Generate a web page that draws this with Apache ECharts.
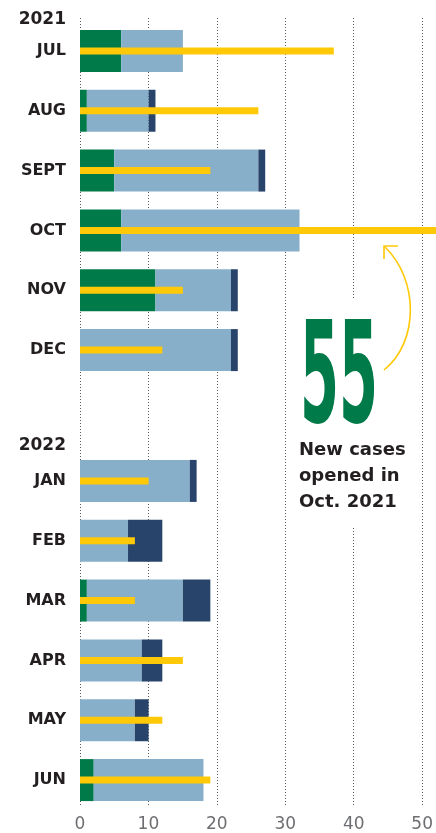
<!DOCTYPE html>
<html>
<head>
<meta charset="utf-8">
<script src="https://cdn.jsdelivr.net/npm/echarts@6/dist/echarts.min.js"></script>
<style>
  html, body { margin: 0; padding: 0; background: #fff; }
  #chart { width: 436px; height: 833px; }
</style>
</head>
<body>
<div id="chart"></div>
<script>
// data
var months2021 = ['JUL', 'AUG', 'SEPT', 'OCT', 'NOV', 'DEC'];
var green2021 = [6, 1, 5, 6, 11, 0];
var lightBlue2021 = [9, 9, 21, 26, 11, 22];
var navy2021 = [0, 1, 1, 0, 1, 1];
var newCases2021 = [37, 26, 19, 55, 15, 12];

var months2022 = ['JAN', 'FEB', 'MAR', 'APR', 'MAY', 'JUN'];
var green2022 = [0, 0, 1, 0, 0, 2];
var lightBlue2022 = [16, 7, 14, 9, 8, 16];
var navy2022 = [1, 5, 4, 3, 2, 0];
var newCases2022 = [10, 8, 8, 15, 12, 19];

var xTicks = [0, 10, 20, 30, 40, 50];

var GREEN = '#017a49', LIGHT = '#87afc9', NAVY = '#29446a', YELLOW = '#ffc907';
var INK = '#231f20';
var FONT = 'DejaVu Sans';

var myChart = echarts.init(document.getElementById('chart'));

function catAxis(gridIndex, data, show) {
    return {
        type: 'category',
        gridIndex: gridIndex,
        data: data,
        inverse: true,
        show: show,
        axisLine: { show: false },
        axisTick: { show: false },
        axisLabel: {
            show: show,
            color: INK,
            fontFamily: FONT,
            fontWeight: 'bold',
            fontSize: 16,
            margin: 14
        }
    };
}

function hiddenX(gridIndex) {
    return { type: 'value', gridIndex: gridIndex, min: 0, max: 50, show: false };
}

function stackSeries(name, color, data, xi, yi, stack) {
    return {
        name: name,
        type: 'bar',
        stack: stack,
        xAxisIndex: xi,
        yAxisIndex: yi,
        barWidth: 42,
        itemStyle: { color: color },
        data: data
    };
}

function yellowSeries(data, xi, yi) {
    return {
        name: 'New cases',
        type: 'bar',
        xAxisIndex: xi,
        yAxisIndex: yi,
        barWidth: 7,
        clip: false,
        z: 3,
        itemStyle: { color: YELLOW },
        data: data
    };
}

var option = {
    animation: false,
    backgroundColor: '#fff',
    grid: [
        { left: 80, right: 13, top: 21, height: 359 },
        { left: 80, right: 13, top: 451, height: 359 },
        { left: 80, right: 13, top: 18, height: 795 }
    ],
    xAxis: [
        hiddenX(0),
        hiddenX(0),
        hiddenX(1),
        hiddenX(1),
        {
            type: 'value',
            gridIndex: 2,
            min: xTicks[0],
            max: xTicks[xTicks.length - 1],
            interval: 10,
            axisLine: { show: false },
            axisTick: { show: false },
            axisLabel: {
                color: '#6d6e71',
                fontFamily: FONT,
                fontSize: 17,
                margin: 10
            },
            splitLine: {
                show: true,
                lineStyle: { color: '#58595b', width: 1, type: [1, 2] }
            }
        }
    ],
    yAxis: [
        catAxis(0, months2021, true),
        catAxis(0, months2021, false),
        catAxis(1, months2022, true),
        catAxis(1, months2022, false),
        { type: 'value', gridIndex: 2, show: false }
    ],
    series: [
        stackSeries('Green', GREEN, green2021, 0, 0, 'y2021'),
        stackSeries('Light blue', LIGHT, lightBlue2021, 0, 0, 'y2021'),
        stackSeries('Navy', NAVY, navy2021, 0, 0, 'y2021'),
        yellowSeries(newCases2021, 1, 1),
        stackSeries('Green', GREEN, green2022, 2, 2, 'y2022'),
        stackSeries('Light blue', LIGHT, lightBlue2022, 2, 2, 'y2022'),
        stackSeries('Navy', NAVY, navy2022, 2, 2, 'y2022'),
        yellowSeries(newCases2022, 3, 3)
    ],
    graphic: [
        {
            type: 'text', x: 66, y: 20, z: 10,
            style: { text: '2021', fill: INK, font: 'bold 17px ' + FONT, textAlign: 'right', textVerticalAlign: 'middle' }
        },
        {
            type: 'text', x: 66, y: 446, z: 10,
            style: { text: '2022', fill: INK, font: 'bold 17px ' + FONT, textAlign: 'right', textVerticalAlign: 'middle' }
        },
        // white patch behind the callout
        {
            type: 'rect', z: 5,
            shape: { x: 340, y: 300, width: 30, height: 227 },
            style: { fill: '#fff' }
        },
        {
            type: 'text', x: 300, y: 386, z: 10, scaleX: 0.4,
            style: { text: '55', fill: GREEN, font: 'bold 140px ' + FONT, textAlign: 'left', textVerticalAlign: 'middle' }
        },
        {
            type: 'text', x: 299, y: 437, z: 10,
            style: {
                text: 'New cases\nopened in\nOct. 2021',
                fill: INK, font: 'bold 18px ' + FONT, lineHeight: 26,
                textAlign: 'left', textVerticalAlign: 'top'
            }
        },
        {
            type: 'bezierCurve', z: 10,
            shape: { x1: 384, y1: 370, cpx1: 419, cpy1: 342, cpx2: 419, cpy2: 280, x2: 385, y2: 247 },
            style: { stroke: YELLOW, lineWidth: 1.6, fill: null }
        },
        {
            type: 'polyline', z: 10,
            shape: { points: [[398, 246], [384, 246], [384, 259]] },
            style: { stroke: YELLOW, lineWidth: 1.6, fill: null }
        }
    ]
};
myChart.setOption(option);
</script>
</body>
</html>
